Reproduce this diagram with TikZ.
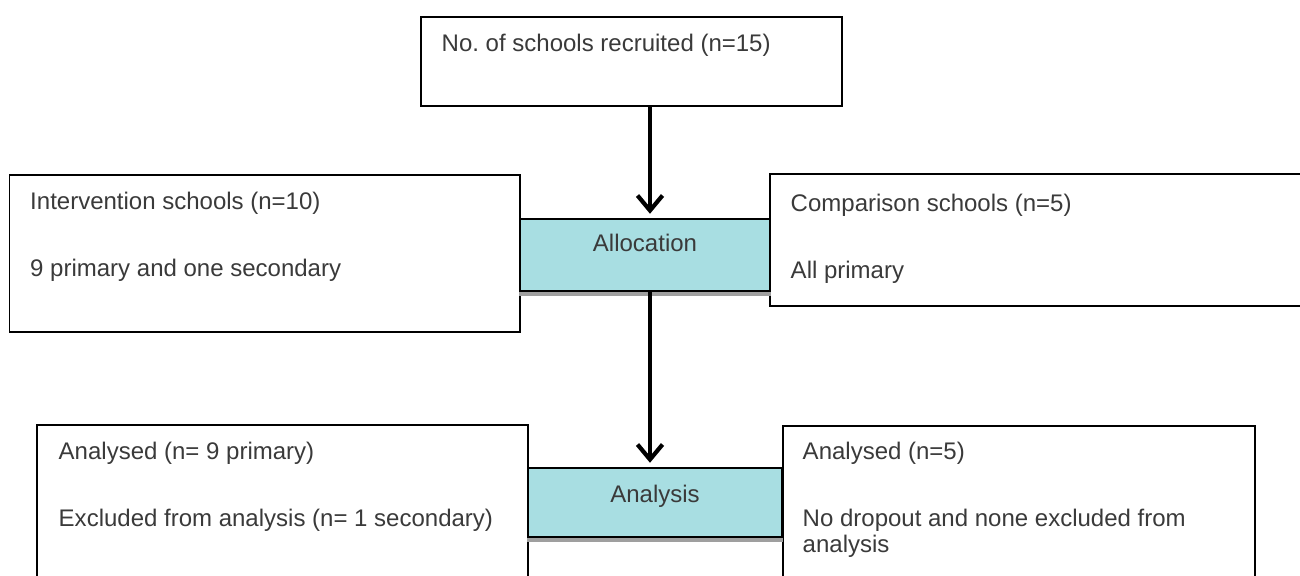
\documentclass[tikz,border=0pt]{standalone}
\usepackage{fontspec}
\setmainfont{Liberation Sans}
\usetikzlibrary{arrows.meta,calc}
\definecolor{phasecyan}{RGB}{168,222,226}
\definecolor{textgray}{RGB}{58,58,58}
\tikzset{>={Straight Barb[length=0.3cm,width=0.5cm]}}
\tikzstyle{stagebox}=[rectangle,draw=black,line width=0.7pt,fill=white,inner sep=0pt]
\tikzstyle{phase}=[rectangle,draw=black,line width=0.8pt,fill=phasecyan,inner sep=0pt]
\tikzstyle{boxtext}=[anchor=base west,inner sep=0pt,text=textgray,font=\fontsize{13.66}{16}\selectfont]
\tikzstyle{phasetext}=[anchor=base,inner sep=0pt,text=textgray,font=\fontsize{13.66}{16}\selectfont]
\tikzstyle{flow}=[->,line width=2.4pt,shorten >=0.09cm]

\begin{document}
\begin{tikzpicture}
\path[use as bounding box,clip] (0,0) rectangle (26,11.52);
\def \pad {0.42};
\def \first {0.70};
\def \second {2.04};

\node[stagebox,minimum width=8.42cm,minimum height=1.78cm] (recruit) at (12.63,10.29) {};
\node[stagebox,minimum width=10.21cm,minimum height=3.14cm] (interv) at (5.295,6.45) {};
\node[stagebox,minimum width=11cm,minimum height=2.64cm] (compar) at (20.9,6.72) {};
\node[phase,minimum width=5cm,minimum height=1.44cm] (alloc) at (12.9,6.42) {};
\fill[gray!75] ($(alloc.south west)+(0,-0.014)$) rectangle ($(alloc.south east)+(0,-0.09)$);

\node[stagebox,minimum width=9.82cm,minimum height=3.4cm] (analint) at (5.65,1.32) {};
\node[stagebox,minimum width=9.44cm,minimum height=3.38cm] (analcomp) at (20.38,1.31) {};
\node[phase,minimum width=5.08cm,minimum height=1.38cm] (analysis) at (13.1,1.47) {};
\fill[gray!75] ($(analysis.south west)+(0,-0.014)$) rectangle ($(analysis.south east)+(0,-0.09)$);

\node[boxtext] (recruitA) at ($(recruit.north west)+(\pad,-\first)$) {No.\ of schools recruited (n=15)};

\node[boxtext] (intervA) at ($(interv.north west)+(\pad,-\first)$) {Intervention schools (n=10)};
\node[boxtext] (intervB) at ($(interv.north west)+(\pad,-\second)$) {9 primary and one secondary};

\node[boxtext] (comparA) at ($(compar.north west)+(\pad,-0.76)$) {Comparison schools (n=5)};
\node[boxtext] (comparB) at ($(compar.north west)+(\pad,-2.10)$) {All primary};

\node[boxtext] (analintA) at ($(analint.north west)+(0.44,-\first)$) {Analysed (n= 9 primary)};
\node[boxtext] (analintB) at ($(analint.north west)+(0.44,-\second)$) {Excluded from analysis (n= 1 secondary)};

\node[boxtext] (analcompA) at ($(analcomp.north west)+(0.40,-0.68)$) {Analysed (n=5)};
\node[boxtext] (analcompB) at ($(analcomp.north west)+(0.40,-2.02)$) {No dropout and none excluded from};
\node[boxtext] (analcompC) at ($(analcomp.north west)+(0.40,-2.54)$) {analysis};

\node[phasetext] (allocT) at ($(alloc.center)+(0,0.06)$) {Allocation};
\node[phasetext] (analysisT) at (analysis.center) {Analysis};

\coordinate (spine) at (13,0);
\draw[flow] (recruit.south -| spine) -- (alloc.north -| spine);
\draw[flow] (alloc.south -| spine) -- (analysis.north -| spine);

\end{tikzpicture}
\end{document}
